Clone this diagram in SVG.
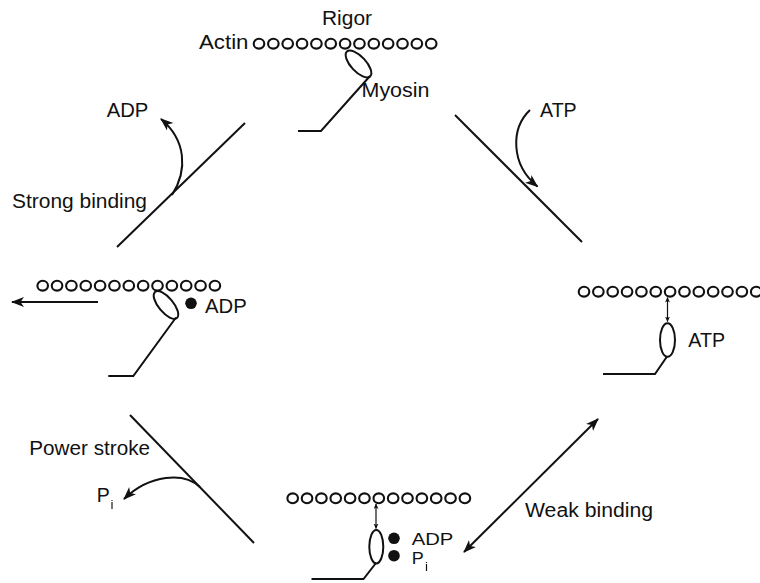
<svg xmlns="http://www.w3.org/2000/svg" width="760" height="583" viewBox="0 0 760 583">
  <defs>
    <style>
      .lbl { font-family: "Liberation Sans", Arial, sans-serif; font-size: 19.5px; fill: #111; }
      .sm { font-family: "Liberation Sans", Arial, sans-serif; font-size: 17px; fill: #111; }
      .sub { font-family: "Liberation Sans", Arial, sans-serif; font-size: 13.5px; fill: #111; filter: url(#flat); }
      .ln { fill: none; stroke: #111; stroke-width: 2; stroke-linecap: butt; stroke-linejoin: miter; }
      .thin { fill: none; stroke: #111; stroke-width: 1.2; }
      .bead { fill: none; stroke: #111; stroke-width: 2.1; }
      .dot { fill: #111; }
    </style>
    <!-- pass-through filter so small glyphs are rasterised in greyscale -->
    <filter id="flat" x="-50%" y="-50%" width="200%" height="200%">
      <feOffset dx="0" dy="0"/>
    </filter>
    <marker id="head" markerUnits="userSpaceOnUse" markerWidth="14" markerHeight="12" refX="12" refY="5" orient="auto-start-reverse">
      <path d="M0,0 L13,5 L0,10 L3.5,5 Z" fill="#111"/>
    </marker>
    <marker id="tip" markerUnits="userSpaceOnUse" markerWidth="6" markerHeight="6" refX="5" refY="2.5" orient="auto-start-reverse">
      <path d="M0,0 L5.5,2.5 L0,5 L1.5,2.5 Z" fill="#111"/>
    </marker>
    <!-- a row of 13 actin beads, first bead centred at the origin -->
    <g id="actin">
      <ellipse class="bead" cx="0" cy="0" rx="5.3" ry="4.9"/>
      <ellipse class="bead" cx="14.35" cy="0" rx="5.3" ry="4.9"/>
      <ellipse class="bead" cx="28.7" cy="0" rx="5.3" ry="4.9"/>
      <ellipse class="bead" cx="43.05" cy="0" rx="5.3" ry="4.9"/>
      <ellipse class="bead" cx="57.4" cy="0" rx="5.3" ry="4.9"/>
      <ellipse class="bead" cx="71.75" cy="0" rx="5.3" ry="4.9"/>
      <ellipse class="bead" cx="86.1" cy="0" rx="5.3" ry="4.9"/>
      <ellipse class="bead" cx="100.45" cy="0" rx="5.3" ry="4.9"/>
      <ellipse class="bead" cx="114.8" cy="0" rx="5.3" ry="4.9"/>
      <ellipse class="bead" cx="129.15" cy="0" rx="5.3" ry="4.9"/>
      <ellipse class="bead" cx="143.5" cy="0" rx="5.3" ry="4.9"/>
      <ellipse class="bead" cx="157.85" cy="0" rx="5.3" ry="4.9"/>
      <ellipse class="bead" cx="172.2" cy="0" rx="5.3" ry="4.9"/>
    </g>
  </defs>

  <rect width="760" height="583" fill="#fff"/>

  <!-- Rigor state (top) -->
  <g id="node-rigor">
    <text class="lbl" x="322" y="25" textLength="50" lengthAdjust="spacingAndGlyphs">Rigor</text>
    <text class="lbl" x="199" y="48.5" textLength="49.5" lengthAdjust="spacingAndGlyphs">Actin</text>
    <use href="#actin" x="259" y="43.7"/>
    <ellipse class="ln" cx="358.5" cy="64" rx="17" ry="7.5" transform="rotate(47 358.5 64)"/>
    <polyline class="ln" points="370,76 321,131 298,131"/>
    <text class="lbl" x="361.5" y="96.5" textLength="68" lengthAdjust="spacingAndGlyphs">Myosin</text>
  </g>

  <!-- ATP bound, detached (right) -->
  <g id="node-atp">
    <use href="#actin" x="584" y="291.7"/>
    <line class="thin" x1="667.5" y1="297.5" x2="667.5" y2="321.5" marker-start="url(#tip)" marker-end="url(#tip)"/>
    <ellipse class="ln" cx="667.5" cy="340" rx="7.5" ry="16.7"/>
    <polyline class="ln" points="667,356.5 655,374 603,374"/>
    <text class="lbl" x="688.3" y="347.3" textLength="36.7" lengthAdjust="spacingAndGlyphs">ATP</text>
  </g>

  <!-- ADP + Pi, weakly bound (bottom) -->
  <g id="node-adp-pi">
    <use href="#actin" x="292.7" y="498.3"/>
    <line class="thin" x1="376" y1="504" x2="376" y2="528.5" marker-start="url(#tip)" marker-end="url(#tip)"/>
    <ellipse class="ln" cx="376.3" cy="546.7" rx="7" ry="16.7"/>
    <polyline class="ln" points="376,563 363.5,579 311.5,579"/>
    <circle class="dot" cx="394" cy="538.3" r="5.8"/>
    <circle class="dot" cx="394" cy="555.7" r="5.8"/>
    <text class="sm" x="411.7" y="544.5" textLength="41.6" lengthAdjust="spacingAndGlyphs">ADP</text>
    <text class="sm" x="411.7" y="564" textLength="12" lengthAdjust="spacingAndGlyphs">P</text>
    <text class="sub" x="425" y="571">i</text>
  </g>

  <!-- ADP bound, after the power stroke (left) -->
  <g id="node-adp">
    <use href="#actin" x="42.7" y="285.7"/>
    <ellipse class="ln" cx="166" cy="305" rx="17" ry="7.3" transform="rotate(50 166 305)"/>
    <polyline class="ln" points="176,317.5 133.3,376 108.3,376"/>
    <circle class="dot" cx="191" cy="303.3" r="5.8"/>
    <text class="lbl" x="205" y="313.3" textLength="41.7" lengthAdjust="spacingAndGlyphs">ADP</text>
    <line class="ln" x1="98" y1="302" x2="12" y2="302" marker-end="url(#head)"/>
  </g>

  <!-- cycle connectors -->
  <g id="connectors">
    <!-- rigor -> ATP binding -->
    <line class="ln" x1="455" y1="115" x2="582" y2="242"/>
    <path class="ln" d="M530,110 C511,128 510,164 537.5,186.5" marker-end="url(#head)"/>
    <text class="lbl" x="540" y="117.3" textLength="36.7" lengthAdjust="spacingAndGlyphs">ATP</text>

    <!-- weak binding, reversible -->
    <line class="ln" x1="464" y1="552" x2="598" y2="419" marker-start="url(#head)" marker-end="url(#head)"/>
    <text class="lbl" x="525" y="517.3" textLength="128" lengthAdjust="spacingAndGlyphs">Weak binding</text>

    <!-- power stroke with Pi release -->
    <line class="ln" x1="130" y1="415" x2="254" y2="543"/>
    <path class="ln" d="M200,487 C184,472 150,474 124,499" marker-end="url(#head)"/>
    <text class="lbl" x="29.3" y="455" textLength="120.7" lengthAdjust="spacingAndGlyphs">Power stroke</text>
    <text class="lbl" x="96.7" y="501.7">P</text>
    <text class="sub" x="110.5" y="508.5">i</text>

    <!-- strong binding with ADP release -->
    <line class="ln" x1="245" y1="123" x2="117" y2="247"/>
    <path class="ln" d="M172,195 C188,170 186,140 161,119" marker-end="url(#head)"/>
    <text class="lbl" x="106.7" y="116.7" textLength="41.6" lengthAdjust="spacingAndGlyphs">ADP</text>
    <text class="lbl" x="12" y="208.3" textLength="135" lengthAdjust="spacingAndGlyphs">Strong binding</text>
  </g>
</svg>
